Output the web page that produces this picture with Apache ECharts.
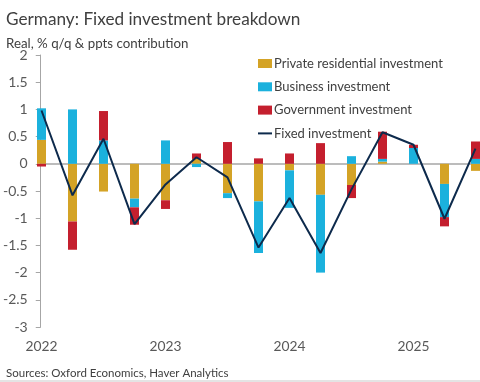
<!DOCTYPE html>
<html><head><meta charset="utf-8">
<script src="https://cdn.jsdelivr.net/npm/echarts@6/dist/echarts.min.js"></script>
<style>html,body{margin:0;padding:0;background:#fff}#c{width:480px;height:382px}</style>
</head><body><div id="c"></div>
<script>
const quarters = ['2022 Q1','2022 Q2','2022 Q3','2022 Q4','2023 Q1','2023 Q2','2023 Q3','2023 Q4','2024 Q1','2024 Q2','2024 Q3','2024 Q4','2025 Q1','2025 Q2','2025 Q3'];
const yTicks = [2, 1.5, 1, 0.5, 0, -0.5, -1, -1.5, -2, -2.5, -3];
const residential = [0.44, -1.06, -0.51, -0.64, -0.67, 0.09, -0.54, -0.69, -0.12, -0.57, -0.39, 0.04, 0.00, -0.37, -0.13];
const business    = [0.58, 1.00, 0.43, -0.16, 0.43, -0.06, -0.09, -0.95, -0.69, -1.43, 0.14, 0.05, 0.29, -0.61, 0.09];
const government  = [-0.05, -0.52, 0.54, -0.32, -0.16, 0.10, 0.40, 0.10, 0.19, 0.38, -0.24, 0.50, 0.06, -0.17, 0.32];
const fixedInv    = [0.98, -0.58, 0.46, -1.11, -0.38, 0.12, -0.25, -1.54, -0.63, -1.64, -0.47, 0.58, 0.35, -1.01, 0.28];

const FONT = "Lato, 'Open Sans', sans-serif";
const TXT = '#404040';
const LBL = '#595959';

const chart = echarts.init(document.getElementById('c'), null, {renderer: 'canvas'});
const barCommon = {type: 'bar', stack: 'tot', barWidth: 9, xAxisIndex: 0, yAxisIndex: 0, clip: false};
chart.setOption({
  animation: false,
  backgroundColor: '#fff',
  textStyle: {fontFamily: FONT},
  title: [
    {text: 'Germany: Fixed investment breakdown', left: 1, top: 6,
     textStyle: {fontFamily: FONT, fontSize: 17.2, fontWeight: 'normal', color: TXT}},
    {text: 'Real, % q/q & ppts contribution', left: 1, top: 32,
     textStyle: {fontFamily: FONT, fontSize: 13.3, fontWeight: 'normal', color: TXT}},
    {text: 'Sources: Oxford Economics, Haver Analytics', left: 1, top: 362,
     textStyle: {fontFamily: FONT, fontSize: 11.5, fontWeight: 'normal', color: TXT}}
  ],
  legend: {
    orient: 'vertical', left: 253, top: 52, itemGap: 10.3, itemWidth: 14, itemHeight: 9,
    textStyle: {fontFamily: FONT, fontSize: 13, lineHeight: 13, color: TXT, padding: [0, 0, 0, -3]},
    data: [
      {name: 'Private residential investment', icon: 'rect'},
      {name: 'Business investment', icon: 'rect'},
      {name: 'Government investment', icon: 'rect'},
      {name: 'Fixed investment', icon: 'path://M0,0H14V2H0Z'}
    ]
  },
  grid: [
    {left: 41.5, right: 4.5, top: 55, bottom: 55, containLabel: false},
    {left: 36, right: 0, top: 55, bottom: 55, containLabel: false}
  ],
  xAxis: [{
    type: 'category', gridIndex: 0, data: quarters, boundaryGap: false,
    splitLine: {show: false}, axisLine: {show: false}, axisTick: {show: false},
    axisLabel: {
      interval: 3, margin: 13, fontFamily: FONT, fontSize: 13.8, color: LBL,
      formatter: v => v.slice(0, 4)
    }
  }, {
    type: 'value', gridIndex: 1, min: 0, max: 1,
    splitLine: {show: false}, axisTick: {show: false}, axisLabel: {show: false},
    axisLine: {show: true, onZero: true, lineStyle: {color: '#a6a6a6', width: 1.5}}
  }],
  yAxis: [{
    type: 'value', gridIndex: 0, min: -3, max: 2, interval: 0.5, show: false
  }, {
    type: 'value', gridIndex: 1, min: -3, max: 2, interval: 0.5,
    splitLine: {show: false},
    axisLine: {show: true, lineStyle: {color: '#a6a6a6', width: 1}},
    axisTick: {show: true, inside: false, length: 5, lineStyle: {color: '#a6a6a6'}},
    axisLabel: {margin: 13, fontFamily: FONT, fontSize: 14, color: LBL, customValues: yTicks}
  }],
  series: [
    Object.assign({name: 'Private residential investment', data: residential, itemStyle: {color: '#d4a326'}}, barCommon),
    Object.assign({name: 'Business investment', data: business, itemStyle: {color: '#1bb1dd'}}, barCommon),
    Object.assign({name: 'Government investment', data: government, itemStyle: {color: '#c41f2e'}}, barCommon),
    {name: 'Fixed investment', type: 'line', data: fixedInv, symbol: 'none', z: 5,
     xAxisIndex: 0, yAxisIndex: 0,
     lineStyle: {color: '#0d2a4c', width: 2}, itemStyle: {color: '#0d2a4c'}}
  ],
  graphic: [{type: 'rect', shape: {x: 0, y: 380, width: 480, height: 2}, style: {fill: '#e4e4e4'}, silent: true}]
});
</script></body></html>
